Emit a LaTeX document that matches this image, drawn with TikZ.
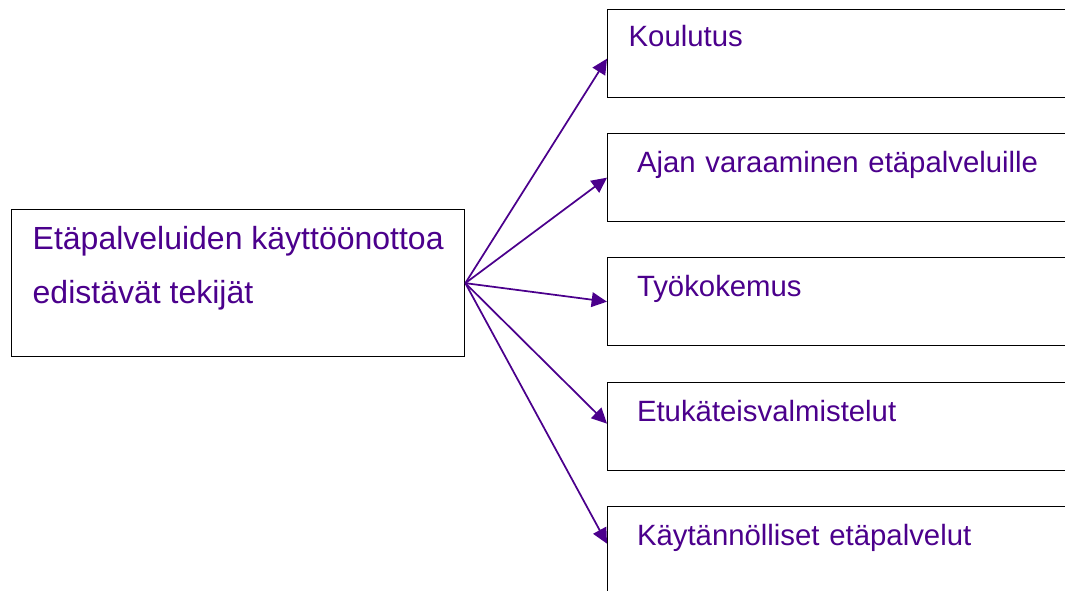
\documentclass[tikz,border=0pt]{standalone}
\usepackage{fontspec}
\setmainfont{Liberation Sans}
\usetikzlibrary{arrows.meta}

\definecolor{violetti}{RGB}{75,0,140}

\begin{document}
\begin{tikzpicture}
			[x=0.75pt,y=-0.75pt,
			laatikko/.style={draw=black,line width=1pt,anchor=north west,inner ysep=0pt,text=violetti},
			tekija/.style={laatikko,inner xsep=22pt,text width=307pt,align=left,
				minimum width=351pt,text height=29.25pt,text depth=36.75pt,
				font=\fontsize{22}{26}\selectfont},
			nuoli/.style={draw=violetti,line width=1.3pt,-{Triangle[length=11.5pt,width=11pt]}}]
			\useasboundingbox (0,0) rectangle (1065,591);
			\node[laatikko,align=left,minimum width=339.75pt,minimum height=110.25pt,
				inner xsep=0pt,text height=70.5pt,text depth=39.75pt,
				font=\fontsize{24}{40.5}\selectfont] (edistajat) at (11,209)
				{Etäpalveluiden käyttöönottoa\\edistävät tekijät};
			\node[tekija,inner xsep=15.75pt,text width=319.5pt,text height=27.75pt,text depth=38.25pt]
				(koulutus) at (607,9) {Koulutus};
			\node[tekija] (varaaminen) at (607,133) {Ajan varaaminen etäpalveluille};
			\node[tekija] (kokemus) at (607,257) {Työkokemus};
			\node[tekija] (valmistelut) at (607,382) {Etukäteisvalmistelut};
			\node[tekija] (kaytannot) at (607,506) {Käytännölliset etäpalvelut};
			\draw[nuoli] (edistajat.east) -- ([yshift=-3.75pt]koulutus.west);
			\draw[nuoli] (edistajat.east) -- (varaaminen.west);
			\draw[nuoli] (edistajat.east) -- (kokemus.west);
			\draw[nuoli] (edistajat.east) -- ([yshift=2.25pt]valmistelut.west);
			\draw[nuoli] (edistajat.east) -- ([yshift=5.25pt]kaytannot.west);
		\end{tikzpicture}
\end{document}
